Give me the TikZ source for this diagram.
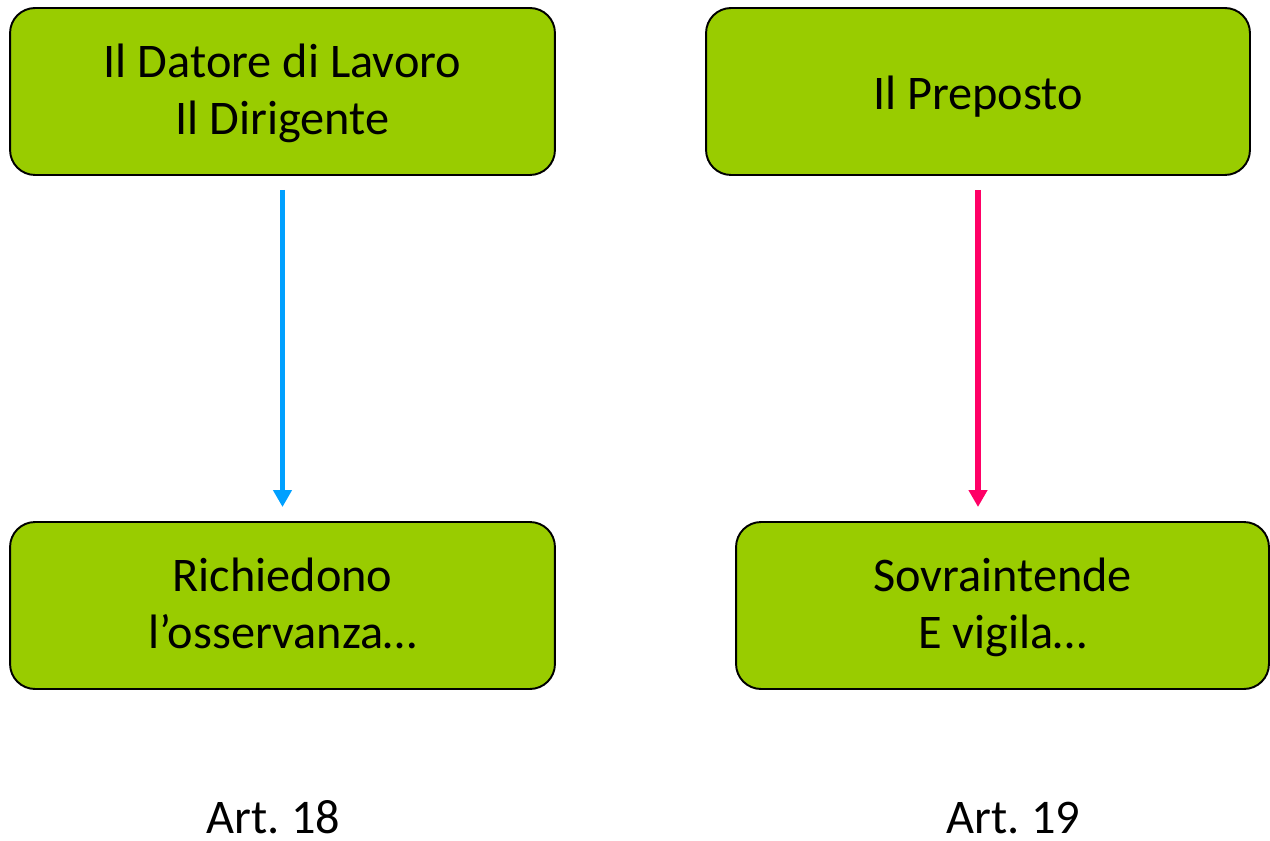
\documentclass[tikz,border=0pt]{standalone}
\usepackage{fontspec}
\setmainfont{Carlito}
\usetikzlibrary{arrows.meta}

\definecolor{boxgreen}{HTML}{99CC00}
\definecolor{arrowblue}{HTML}{00A0FF}
\definecolor{arrowpink}{HTML}{FF0066}

\frenchspacing

\begin{document}
\begin{tikzpicture}[x=0.02cm, y=-0.02cm,
	box/.style={draw=black, line width=1.1pt, fill=boxgreen, rounded corners=0.5cm,
		minimum height=3.34cm, inner sep=0pt, outer sep=0pt, align=center,
		font=\fontsize{27.5}{32.4}\selectfont,
		execute at end node=\strut, text depth=2.3pt},
	link/.style={line width=3.4pt, shorten <=0.3cm, shorten >=0.3cm,
		-{Triangle[width=0.36cm, length=0.34cm]}},
	art/.style={font=\fontsize{27.5}{30}\selectfont, anchor=base}]

\def\width{1270}
\def\height{841}

\path [use as bounding box] (0,0) rectangle (\width,\height);

% BOXES
\node [box, minimum width=10.9cm] (datore) at (282.5,91.5) {Il Datore di Lavoro\\Il Dirigente};
\node [box, minimum width=10.88cm] (preposto) at (978,91.5) {Il Preposto};
\node [box, minimum width=10.9cm] (richiedono) at (282.5,605.5) {Richiedono\\l’osservanza…};
\node [box, minimum width=10.66cm] (sovraintende) at (1002.5,605.5) {Sovraintende\\E vigila…};

% ARROWS
\draw [link, arrowblue] (datore) -- (richiedono);
\draw [link, arrowpink] (preposto) -- (preposto |- sovraintende.north);

% ARTICLES
\node [art] (art18) at (273.5,833) {Art. 18};
\node [art] (art19) at (1013.5,833) {Art. 19};

\end{tikzpicture}
\end{document}
